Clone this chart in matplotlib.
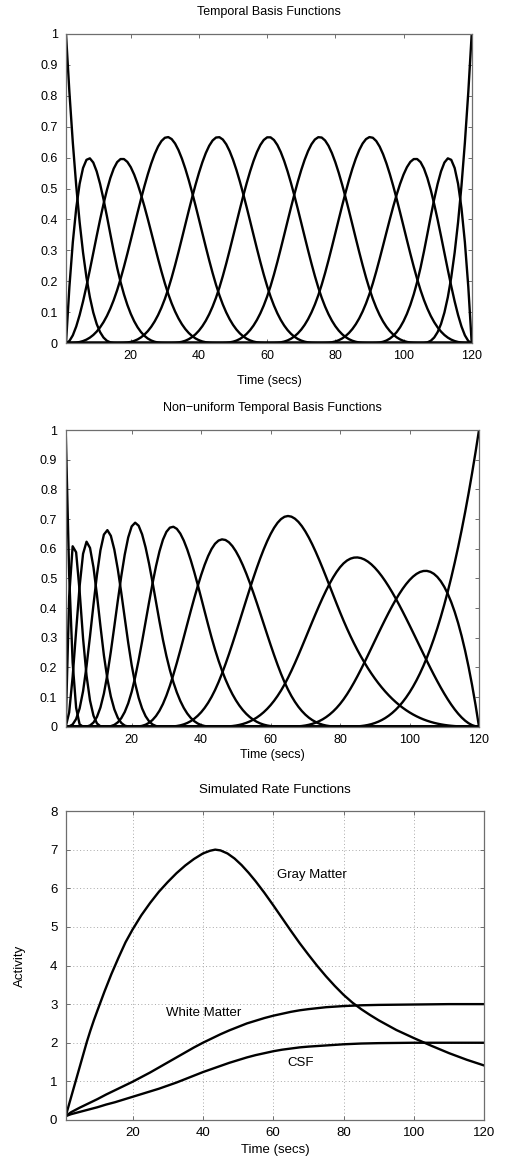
import numpy as np
import matplotlib
matplotlib.use('Agg')
import matplotlib.pyplot as plt

plt.rcParams['font.family'] = ['Liberation Sans', 'DejaVu Sans']

# ---------------- data ----------------
sample_times = np.arange(1, 121)            # frame sample times (secs)
uniform_breaks = [1, 15.875, 30.75, 45.625, 60.5, 75.375, 90.25, 105.125, 120]
nonuniform_breaks = [1, 6, 12, 20, 29, 44, 64, 81, 120]
spline_degree = 3

gm_t = [1, 2, 3, 4, 5, 6, 7, 8, 9, 10, 12, 14, 16, 18, 20, 22.5, 25, 27.5, 30, 32.5, 35,
        37.5, 40, 42, 43.5, 45, 47, 49, 51, 53, 55, 57.5, 60, 62.5, 65, 67.5, 70, 72.5,
        75, 77.5, 80, 82.5, 85, 87.5, 90, 95, 100, 105, 110, 115, 120]
gm_y = [0.1, 0.42, 0.74, 1.06, 1.38, 1.7, 2.02, 2.31, 2.58, 2.83, 3.32, 3.78, 4.2, 4.6,
        4.93, 5.3, 5.62, 5.91, 6.16, 6.39, 6.59, 6.76, 6.9, 6.97, 7.0, 6.98, 6.9, 6.77,
        6.6, 6.4, 6.18, 5.88, 5.56, 5.23, 4.9, 4.58, 4.28, 3.99, 3.72, 3.47, 3.24, 3.04,
        2.87, 2.72, 2.58, 2.33, 2.12, 1.92, 1.73, 1.56, 1.41]

wm_t = [1, 2.5, 5, 7.5, 10, 12.5, 15, 17.5, 20, 22.5, 25, 27.5, 30, 32.5, 35, 37.5, 40,
        42.5, 45, 47.5, 50, 52.5, 55, 57.5, 60, 62.5, 65, 67.5, 70, 75, 80, 85, 90, 100,
        110, 120]
wm_y = [0.1, 0.2, 0.32, 0.43, 0.54, 0.66, 0.77, 0.88, 0.99, 1.11, 1.23, 1.36, 1.49, 1.62,
        1.75, 1.88, 2.0, 2.11, 2.22, 2.32, 2.41, 2.5, 2.57, 2.64, 2.7, 2.75, 2.8, 2.84,
        2.87, 2.92, 2.95, 2.97, 2.98, 2.99, 3.0, 3.0]

csf_t = [1, 2.5, 5, 7.5, 10, 12.5, 15, 17.5, 20, 22.5, 25, 27.5, 30, 32.5, 35, 37.5, 40,
         42.5, 45, 47.5, 50, 52.5, 55, 57.5, 60, 62.5, 65, 67.5, 70, 75, 80, 85, 90, 100,
         110, 120]
csf_y = [0.1, 0.15, 0.21, 0.27, 0.33, 0.4, 0.46, 0.53, 0.6, 0.67, 0.74, 0.81, 0.89, 0.97,
         1.06, 1.15, 1.24, 1.32, 1.4, 1.48, 1.55, 1.62, 1.68, 1.73, 1.78, 1.82, 1.85, 1.88,
         1.9, 1.93, 1.96, 1.98, 1.99, 2.0, 2.0, 2.0]

region_labels = ['Gray Matter', 'White Matter', 'CSF']
region_label_pos = [(61, 6.35), (29.6, 2.76), (64, 1.47)]

x_ticks = [20, 40, 60, 80, 100, 120]
basis_yticks = [0, 0.1, 0.2, 0.3, 0.4, 0.5, 0.6, 0.7, 0.8, 0.9, 1]
basis_yticklabels = ['0', '0.1', '0.2', '0.3', '0.4', '0.5', '0.6', '0.7', '0.8', '0.9', '1']
rate_yticks = [0, 1, 2, 3, 4, 5, 6, 7, 8]

titles = ['Temporal Basis Functions', 'Non\u2212uniform Temporal Basis Functions',
          'Simulated Rate Functions']
xlabel_text = 'Time (secs)'
ylabel_text = 'Activity'


def bspline_basis(breaks, t, degree):
    """Cox-de Boor evaluation of clamped B-spline basis on breakpoints."""
    breaks = np.asarray(breaks, float)
    knots = np.concatenate([[breaks[0]] * degree, breaks, [breaks[-1]] * degree])
    t = np.asarray(t, float)
    B = np.zeros((len(knots) - 1, len(t)))
    for i in range(len(knots) - 1):
        if knots[i] < knots[i + 1]:
            B[i] = (t >= knots[i]) & (t < knots[i + 1])
    last = np.max(np.where(knots[:-1] < knots[1:])[0])
    B[last, t >= knots[-1]] = 1.0
    for d in range(1, degree + 1):
        Bn = np.zeros((len(knots) - 1 - d, len(t)))
        for i in range(len(knots) - 1 - d):
            den1 = knots[i + d] - knots[i]
            den2 = knots[i + d + 1] - knots[i + 1]
            a = (t - knots[i]) / den1 * B[i] if den1 > 0 else 0.0
            b = (knots[i + d + 1] - t) / den2 * B[i + 1] if den2 > 0 else 0.0
            Bn[i] = a + b
        B = Bn
    return B


W, H = 505, 1166
fig = plt.figure(figsize=(W / 100, H / 100), dpi=100)

spine_col = '#6e6e6e'


def frac(left, top, right, bottom):
    return [left / W, 1 - bottom / H, (right - left) / W, (bottom - top) / H]


ax1 = fig.add_axes(frac(66, 34, 471.7, 343))
ax2 = fig.add_axes(frac(65.7, 430, 479, 726.7))
ax3 = fig.add_axes(frac(65.7, 811, 484.3, 1120))

for ax, breaks in [(ax1, uniform_breaks), (ax2, nonuniform_breaks)]:
    B = bspline_basis(breaks, sample_times, spline_degree)
    for row in B:
        ax.plot(sample_times, row, color='black', lw=1.7, solid_joinstyle='round')
    ax.set_xlim(sample_times[0], sample_times[-1])
    ax.set_ylim(0, 1)
    ax.set_yticks(basis_yticks)
    ax.set_yticklabels(basis_yticklabels)
    ax.set_xticks(x_ticks)
    ax.tick_params(labelsize=9)

ax3.plot(gm_t, gm_y, color='black', lw=1.7, solid_joinstyle='round')
ax3.plot(wm_t, wm_y, color='black', lw=1.7, solid_joinstyle='round')
ax3.plot(csf_t, csf_y, color='black', lw=1.7, solid_joinstyle='round')
for lab, (lx, ly) in zip(region_labels, region_label_pos):
    ax3.text(lx, ly, lab, fontsize=9.5, ha='left', va='center')
ax3.set_xlim(1, 120)
ax3.set_ylim(0, 8)
ax3.set_xticks(x_ticks)
ax3.set_yticks(rate_yticks)
ax3.tick_params(labelsize=9.5)
ax3.grid(True, color='#a8a8a8', lw=0.7, linestyle=(0, (1, 2.5)))

for ax in (ax1, ax2, ax3):
    for s in ax.spines.values():
        s.set_color(spine_col)
        s.set_linewidth(0.9)
    ax.tick_params(direction='in', length=3, width=0.7, color=spine_col,
                   top=True, right=True, pad=5)
    ax.tick_params(axis='y', pad=6)

# titles and axis labels placed at their pixel positions
title_y = [12, 408, 790]
title_x = [269, 272.5, 275]
xlabel_y = [381, 755, 1150]
for i, (tx, ty) in enumerate(zip(title_x, title_y)):
    fs = 9 if i < 2 else 9.5
    fig.text(tx / W, 1 - ty / H, titles[i], ha='center', va='center', fontsize=fs)
    fig.text(tx / W, 1 - xlabel_y[i] / H, xlabel_text, ha='center', va='center', fontsize=fs)
fig.text(20 / W, 1 - 966 / H, ylabel_text, rotation=90, ha='center', va='center', fontsize=9.5)

fig.savefig('out.png', dpi=100)
